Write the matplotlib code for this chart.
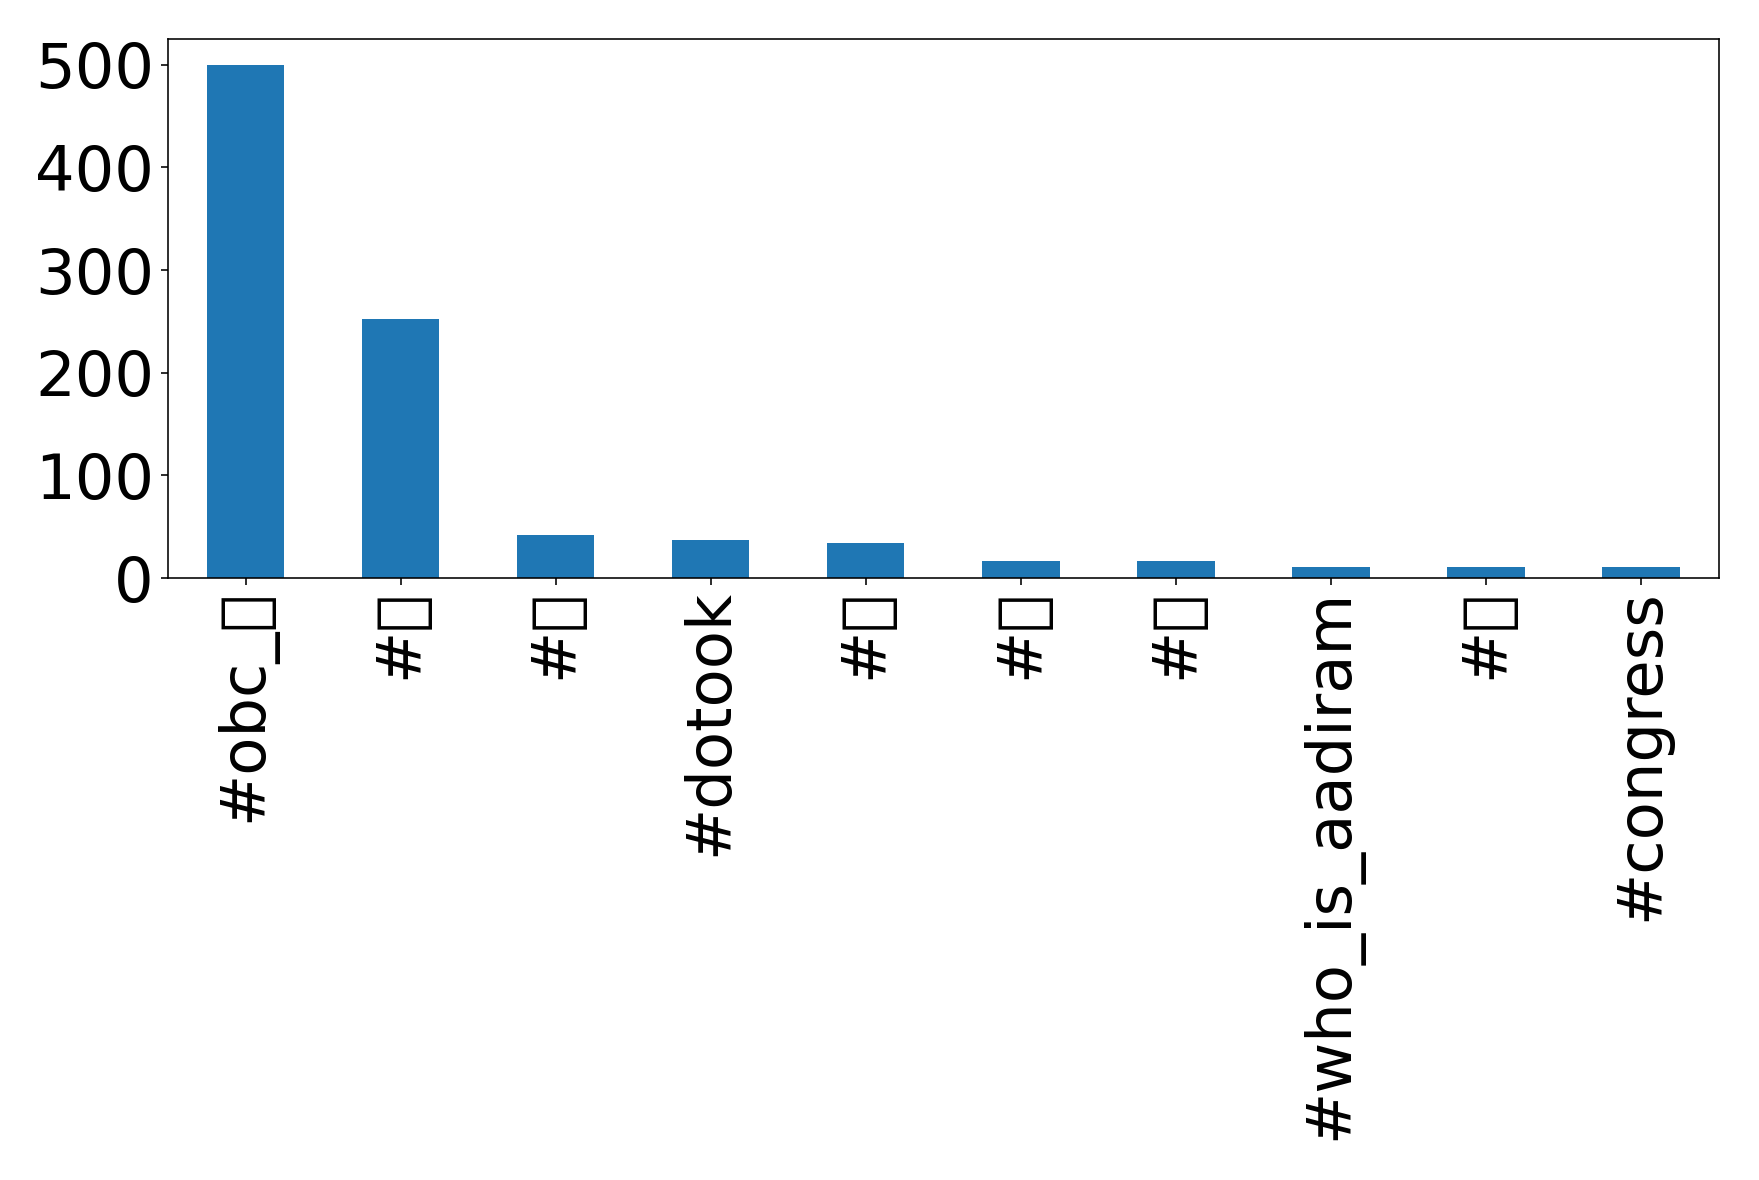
import pandas as pd
import matplotlib
matplotlib.use('Agg')
import matplotlib.pyplot as plt

# top hashtags and their counts (the last char of several tags has no glyph in any font -> box)
hashtags = ['#obc_\U0001F64F', '#\U0001F525', '#\U0001F4AF', '#dotook', '#\U0001F44D',
            '#\U0001F6A9', '#\U0001F64C', '#who_is_aadiram', '#\U0001F4AA', '#congress']
counts = [500, 252, 42, 37, 34, 17, 17, 11, 11, 11]

counts_series = pd.Series(counts, index=hashtags)

plt.rcParams['font.family'] = ['DejaVu Sans', 'Noto Sans']

fig = plt.figure(figsize=(1759 / 144, 1180 / 144), dpi=144)
ax = fig.add_axes([0.0955, 0.510, 0.8815, 0.457])

counts_series.plot(kind='bar', ax=ax, color='#1f77b4', fontsize=31.2)
ax.tick_params(axis='x', pad=2)

fig.savefig('out.png', dpi=144)
